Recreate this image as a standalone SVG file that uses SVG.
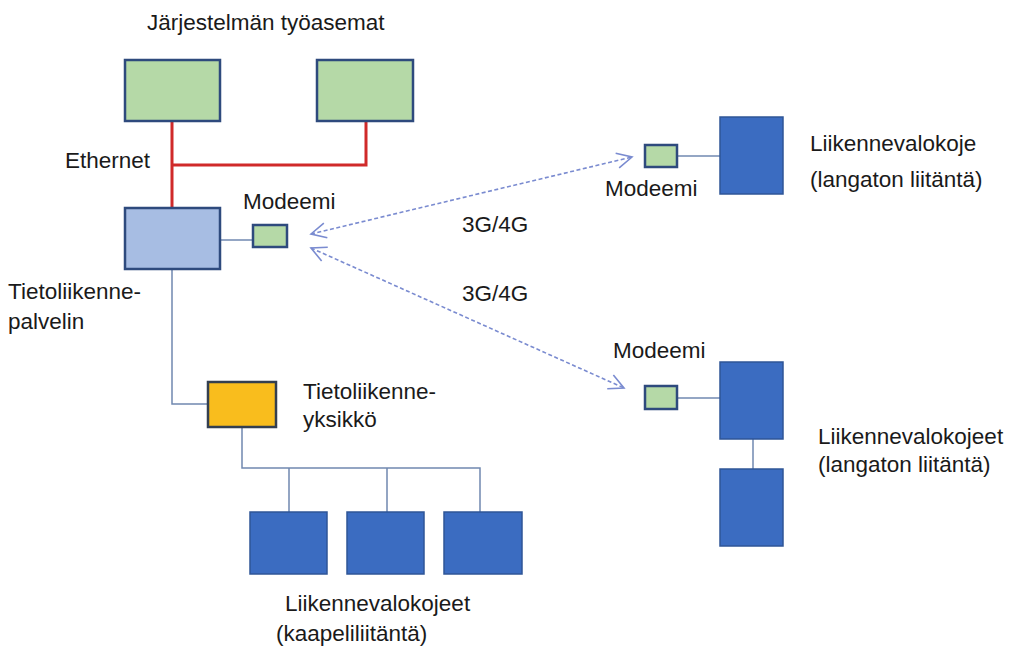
<svg xmlns="http://www.w3.org/2000/svg" width="1011" height="646" viewBox="0 0 1011 646">
<style>
text{font-family:"Liberation Sans",Arial,sans-serif;font-size:22.5px;fill:#1a1a1a}
.ws{fill:#b5d9a7;stroke:#2e4a7d;stroke-width:2.5}
.srv{fill:#a7bde3;stroke:#2e4a7d;stroke-width:2.5}
.tl{fill:#3b6cc1;stroke:#2f5597;stroke-width:1.5}
.unit{fill:#f9bd1d;stroke:#333f50;stroke-width:2.5}
.eth{fill:none;stroke:#d02a2a;stroke-width:3}
.wire{fill:none;stroke:#7088b0;stroke-width:1.5}
.radio{fill:none;stroke:#7a8bd0;stroke-width:1.6;stroke-dasharray:4 2.5;marker-start:url(#oa);marker-end:url(#oa)}
</style>
<defs>
<marker id="oa" viewBox="0 0 18 18" refX="16" refY="9" markerWidth="18" markerHeight="18" markerUnits="userSpaceOnUse" orient="auto-start-reverse">
<path d="M1,1.5 L16,9 L1,16.5" fill="none" stroke="#7a8bd0" stroke-width="1.6"/>
</marker>
</defs>
<rect width="1011" height="646" fill="#ffffff"/>
<g id="connectors">
<path class="eth" d="M172,121 V208 M172,165 H366 V121"/>
<path class="wire" d="M220,240 H253"/>
<path class="wire" d="M172,269 V404 H208"/>
<path class="wire" d="M242,427 V468 H480 V512 M289,468 V512 M387,468 V512"/>
<path class="wire" d="M677,156 H720"/>
<path class="wire" d="M677,398 H720"/>
<path class="wire" d="M753,439 V469"/>
<path class="radio" d="M311,234 L632,157"/>
<path class="radio" d="M311,248 L624,388"/>
</g>
<g id="title"><text x="147" y="30">Järjestelmän työasemat</text></g>
<g id="ws1"><rect class="ws" x="125" y="60" width="95" height="61"/></g>
<g id="ws2"><rect class="ws" x="317" y="60" width="96" height="61"/></g>
<g id="ethernet-label"><text x="65" y="168">Ethernet</text></g>
<g id="server"><rect class="srv" x="125" y="208" width="95" height="61"/>
<text x="8" y="299">Tietoliikenne-</text><text x="8" y="329">palvelin</text></g>
<g id="modem-center"><rect class="ws" x="253" y="225" width="34" height="22"/><text x="243" y="209">Modeemi</text></g>
<g id="label-3g-1"><text x="462" y="232">3G/4G</text></g>
<g id="label-3g-2"><text x="462" y="301">3G/4G</text></g>
<g id="modem-top"><rect class="ws" x="645" y="145" width="32" height="22"/><text x="605" y="196">Modeemi</text></g>
<g id="tl-top"><rect class="tl" x="720" y="117" width="63" height="77"/>
<text x="810" y="151">Liikennevalokoje</text><text x="810" y="187">(langaton liitäntä)</text></g>
<g id="modem-bottom"><rect class="ws" x="645" y="386" width="32" height="23"/><text x="613" y="358">Modeemi</text></g>
<g id="tl-right1"><rect class="tl" x="720" y="362" width="63" height="77"/></g>
<g id="tl-right2"><rect class="tl" x="720" y="469" width="63" height="77"/></g>
<g id="tl-right-label"><text x="818" y="444">Liikennevalokojeet</text><text x="818" y="472">(langaton liitäntä)</text></g>
<g id="unit"><rect class="unit" x="208" y="382" width="68" height="45"/>
<text x="303" y="399">Tietoliikenne-</text><text x="303" y="427">yksikkö</text></g>
<g id="tl-b1"><rect class="tl" x="250" y="512" width="77" height="62"/></g>
<g id="tl-b2"><rect class="tl" x="347" y="512" width="77" height="62"/></g>
<g id="tl-b3"><rect class="tl" x="444" y="512" width="78" height="62"/></g>
<g id="tl-bottom-label"><text x="285" y="611">Liikennevalokojeet</text><text x="276" y="641">(kaapeliliitäntä)</text></g>
</svg>
